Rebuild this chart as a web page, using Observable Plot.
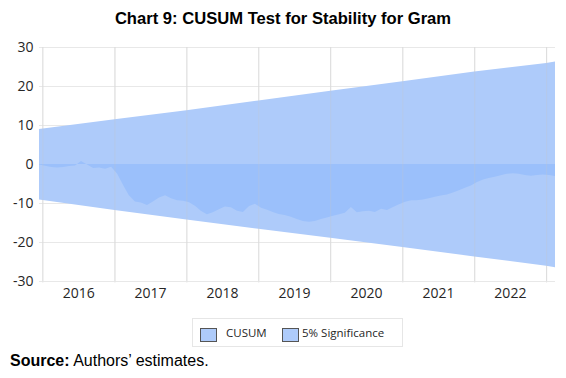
<!DOCTYPE html>
<html><head><meta charset="utf-8">
<script src="https://cdn.jsdelivr.net/npm/d3@7"></script>
<script src="https://cdn.jsdelivr.net/npm/@observablehq/plot@0.6"></script>
<style>
body{margin:0;background:#fff;}
#wrap{position:relative;width:566px;height:378px;overflow:hidden;background:#fff;}
#title{position:absolute;top:9px;left:0;width:566px;text-align:center;font:bold 16.6px "Liberation Sans",Arial,sans-serif;color:#000;line-height:20px;}
#chart{position:absolute;top:34px;left:0;}
#legend{position:absolute;left:192px;top:318px;width:211px;height:29px;border:1px solid #e6e6e6;box-sizing:border-box;font:11.5px "Open Sans",sans-serif;color:#262626;}
#legend .sw{position:absolute;top:9px;width:15px;height:12px;border:1px solid #555;background:#aecbfa;}
#legend .lb{position:absolute;top:5px;line-height:17px;}
#source{position:absolute;left:10px;top:352px;font:16px "Liberation Sans",Arial,sans-serif;color:#000;line-height:18px;}
</style></head>
<body>
<div id="wrap">
  <div id="title">Chart 9: CUSUM Test for Stability for Gram</div>
  <div id="chart"></div>
  <div id="legend">
    <div class="sw" style="left:7px"></div><div class="lb" style="left:33px">CUSUM</div>
    <div class="sw" style="left:89px"></div><div class="lb" style="left:109px">5% Significance</div>
  </div>
  <div id="source"><b>Source:</b> Authors’ estimates.</div>
</div>
<script>
// Monthly CUSUM (mid-month), Dec 2015 – Feb 2023
const firstMonth = "2015-12-15";
const cusumValues = [
  -0.1,
  -0.45,-0.75,-0.9,-0.75,-0.5,-0.4,0.8,-0.1,-1.0,-0.9,-1.2,-0.7,
  -2.5,-5.5,-8.0,-9.6,-9.9,-10.5,-9.6,-8.6,-8.0,-8.8,-9.3,-9.4,
  -9.8,-10.8,-12.0,-12.9,-12.4,-11.6,-10.9,-11.1,-12.0,-12.3,-10.8,-10.2,
  -11.2,-11.7,-12.3,-12.8,-13.1,-13.5,-14.1,-14.6,-14.8,-14.6,-14.1,-13.7,
  -13.3,-12.9,-12.5,-11.0,-12.4,-12.1,-12.0,-12.3,-11.5,-11.8,-11.0,-10.3,
  -9.7,-9.3,-9.3,-9.1,-8.8,-8.4,-8.1,-7.8,-7.3,-6.7,-6.1,-5.5,
  -4.6,-4.0,-3.6,-3.3,-2.9,-2.5,-2.4,-2.5,-2.8,-3.0,-2.8,-2.7,
  -2.8,-3.1
];
// 5% significance bounds
const boundDates = ["2015-12-15","2017-01-01","2018-01-01","2019-01-01","2020-01-01","2021-01-01","2022-01-01","2023-01-01","2023-02-15"];
const upperBound = [9.0, 11.5, 13.8, 16.3, 18.8, 21.2, 23.7, 25.9, 26.3];
const lowerBound = [-9.1, -11.8, -14.2, -16.6, -18.9, -21.3, -23.7, -26.1, -26.5];
const yearLabels = ["2016","2017","2018","2019","2020","2021","2022"];
const gridYears = ["2016","2017","2018","2019","2020","2021","2022","2023"];
const yTicks = [-30,-20,-10,0,10,20,30];

const start = new Date(firstMonth + "T00:00:00Z");
const cusum = cusumValues.map((v, i) => ({date: d3.utcMonth.offset(start, i), v}));
const band = boundDates.map((d, i) => ({date: new Date(d + "T00:00:00Z"), hi: upperBound[i], lo: lowerBound[i]}));
const grid = gridYears.map(y => new Date(y + "-01-01T00:00:00Z"));
const labelPos = yearLabels.map(y => new Date(y + "-07-01T00:00:00Z"));

const chart = Plot.plot({
  width: 566,
  height: 278,
  marginTop: 13,
  marginBottom: 31,
  marginLeft: 39,
  marginRight: 11,
  style: {fontFamily: "'Open Sans', sans-serif", fontSize: "14px", color: "#262626", background: "transparent"},
  x: {type: "utc", domain: [start, new Date("2023-02-15T00:00:00Z")]},
  y: {domain: [-30, 30]},
  marks: [
    Plot.ruleY(yTicks, {stroke: "#e8e8e8", strokeWidth: 1}),
    Plot.ruleX(grid, {y1: -30.4, y2: 30, stroke: "#e4e4e4"}),
    Plot.areaY(band, {x: "date", y1: "lo", y2: "hi", fill: "#aecbfa"}),
    Plot.areaY(cusum, {x: "date", y1: 0, y2: "v", fill: "#9bc0fb"}),
    Plot.ruleX(grid, {y1: -30, y2: 30, stroke: "#c8c8c8", strokeOpacity: 0.3}),
    Plot.axisY(yTicks, {tickSize: 0, tickPadding: 6, tickFormat: d => String(d), fontSize: 14}),
    Plot.axisX(labelPos, {tickSize: 0, tickPadding: 7, tickFormat: d3.utcFormat("%Y"), fontSize: 14})
  ]
});
document.getElementById("chart").appendChild(chart);
</script>
</body></html>
